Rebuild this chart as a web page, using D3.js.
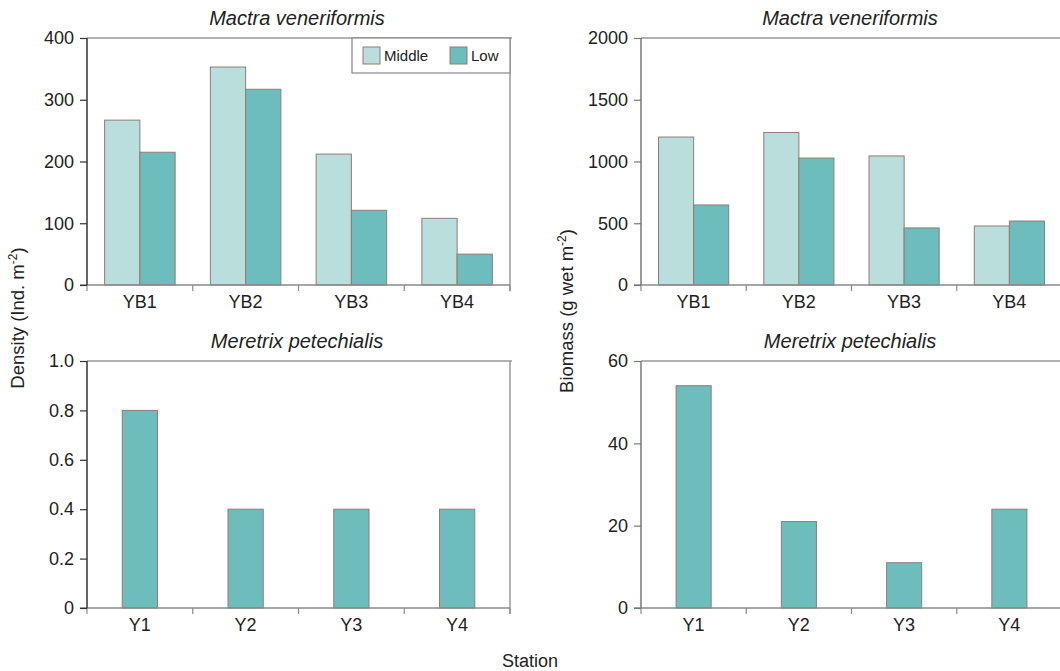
<!DOCTYPE html>
<html>
<head>
<meta charset="utf-8">
<script src="https://cdn.jsdelivr.net/npm/d3@7"></script>
<style>
  body { margin: 0; background: #fff; }
  svg { display: block; font-family: "Liberation Sans", Arial, sans-serif; }
</style>
</head>
<body>
<svg id="chart" width="1060" height="671"></svg>
<script>
// Stations and series
const stationsMactra = ["YB1", "YB2", "YB3", "YB4"];
const stationsMeretrix = ["Y1", "Y2", "Y3", "Y4"];
const seriesNames = ["Middle", "Low"];

// Mactra veneriformis density (Ind. m-2)
const mactraDensityMiddle = [267, 353, 212, 108];
const mactraDensityLow = [215, 317, 121, 50];
// Mactra veneriformis biomass (g wet m-2)
const mactraBiomassMiddle = [1198, 1235, 1045, 478];
const mactraBiomassLow = [648, 1028, 462, 518];
// Meretrix petechialis (low zone only)
const meretrixDensityLow = [0.8, 0.4, 0.4, 0.4];
const meretrixBiomassLow = [54, 21, 11, 24];

// Axis ticks
const densityTicksTop = [0, 100, 200, 300, 400];
const biomassTicksTop = [0, 500, 1000, 1500, 2000];
const densityTicksBottom = [0, 0.2, 0.4, 0.6, 0.8, 1.0];
const biomassTicksBottom = [0, 20, 40, 60];

const colors = { Middle: "#b9dedb", Low: "#6dbdbd" };
const barStroke = "#8f7d74";

const svg = d3.select("#chart");

function panel(cfg) {
  const g = svg.append("g");
  const x = d3.scaleBand().domain(cfg.categories).range([cfg.left, cfg.right]).padding(0);
  const y = d3.scaleLinear().domain(cfg.yDomain).range([cfg.bottom, cfg.top]);

  const series = cfg.series.map(s => s.name);
  const inner = d3.scaleBand().domain(series).range([0, x.bandwidth()])
    .paddingInner(0).paddingOuter(series.length === 1 ? 1 : 0.5);

  // frame: top and right edges
  g.append("line").attr("x1", cfg.left).attr("x2", cfg.right + 2)
    .attr("y1", cfg.top).attr("y2", cfg.top)
    .attr("stroke", "#999").attr("stroke-width", 1.5);
  g.append("line").attr("x1", cfg.right).attr("x2", cfg.right)
    .attr("y1", cfg.top).attr("y2", cfg.bottom + 6)
    .attr("stroke", "#999").attr("stroke-width", 1.5);

  // bars
  cfg.series.forEach(s => {
    g.append("g").selectAll("rect")
      .data(cfg.categories.map((c, i) => ({ c, v: s.values[i] })))
      .join("rect")
      .attr("x", d => x(d.c) + inner(s.name))
      .attr("y", d => y(d.v))
      .attr("width", inner.bandwidth())
      .attr("height", d => y(0) - y(d.v))
      .attr("fill", colors[s.name])
      .attr("stroke", barStroke)
      .attr("stroke-width", 1);
  });

  // x axis baseline, band boundary ticks and labels
  g.append("line").attr("x1", cfg.left - 7).attr("x2", cfg.right)
    .attr("y1", y(0)).attr("y2", y(0))
    .attr("stroke", "#8a8a8a").attr("stroke-width", 1.5);
  const bounds = cfg.categories.map(c => x(c)).concat([cfg.right]);
  g.append("g").selectAll("line").data(bounds).join("line")
    .attr("x1", d => d).attr("x2", d => d)
    .attr("y1", y(0)).attr("y2", y(0) + 6)
    .attr("stroke", "#8a8a8a").attr("stroke-width", 1.2);
  g.append("g").selectAll("text").data(cfg.categories).join("text")
    .attr("x", d => x(d) + x.bandwidth() / 2)
    .attr("y", y(0) + 23)
    .attr("text-anchor", "middle")
    .attr("font-size", 18).attr("fill", "#222")
    .text(d => d);

  // y axis
  const ya = g.append("g").attr("transform", `translate(${cfg.left},0)`)
    .call(d3.axisLeft(y).tickValues(cfg.ticks).tickSize(7).tickPadding(6)
      .tickFormat(cfg.format));
  ya.select(".domain").attr("stroke", cfg.axisColor).attr("stroke-width", 1.5)
    .attr("d", `M0,${cfg.top}V${cfg.bottom}`);
  ya.selectAll(".tick line").attr("stroke", cfg.axisColor).attr("stroke-width", 1.2);
  ya.selectAll(".tick text").attr("font-size", 18).attr("fill", "#222")
    .attr("font-family", "Liberation Sans, Arial, sans-serif");

  // title
  g.append("text")
    .attr("x", cfg.titleX)
    .attr("y", cfg.top - 13)
    .attr("text-anchor", "middle")
    .attr("font-size", 20).attr("font-style", "italic").attr("fill", "#222")
    .text(cfg.title);

  return { g, x, y };
}

const fmt0 = d3.format("d");
const fmt1 = d => (d === 0 ? "0" : d3.format(".1f")(d));

panel({
  categories: stationsMactra, left: 87, right: 510, top: 38, bottom: 285,
  yDomain: [0, 400], ticks: densityTicksTop, format: fmt0, axisColor: "#333",
  series: [{ name: "Middle", values: mactraDensityMiddle }, { name: "Low", values: mactraDensityLow }],
  title: "Mactra veneriformis", titleX: 297
});
panel({
  categories: stationsMactra, left: 641, right: 1062, top: 38, bottom: 285,
  yDomain: [0, 2000], ticks: biomassTicksTop, format: fmt0, axisColor: "#777",
  series: [{ name: "Middle", values: mactraBiomassMiddle }, { name: "Low", values: mactraBiomassLow }],
  title: "Mactra veneriformis", titleX: 850
});
panel({
  categories: stationsMeretrix, left: 87, right: 510, top: 361, bottom: 608,
  yDomain: [0, 1.0], ticks: densityTicksBottom, format: fmt1, axisColor: "#333",
  series: [{ name: "Low", values: meretrixDensityLow }],
  title: "Meretrix petechialis", titleX: 297
});
panel({
  categories: stationsMeretrix, left: 641, right: 1062, top: 361, bottom: 608,
  yDomain: [0, 60], ticks: biomassTicksBottom, format: fmt0, axisColor: "#777",
  series: [{ name: "Low", values: meretrixBiomassLow }],
  title: "Meretrix petechialis", titleX: 850
});

// legend in the density panel
const legend = svg.append("g");
legend.append("rect").attr("x", 352).attr("y", 38).attr("width", 158).attr("height", 35)
  .attr("fill", "#fff").attr("stroke", "#888").attr("stroke-width", 1.2);
const legendItems = [{ name: seriesNames[0], x: 363 }, { name: seriesNames[1], x: 450 }];
legendItems.forEach(it => {
  legend.append("rect").attr("x", it.x).attr("y", 47).attr("width", 17).attr("height", 17)
    .attr("fill", colors[it.name]).attr("stroke", barStroke);
  legend.append("text").attr("x", it.x + 21).attr("y", 61)
    .attr("font-size", 15).attr("fill", "#222").text(it.name);
});

// shared axis titles
function unitLabel(x, y, prefix) {
  const t = svg.append("text")
    .attr("transform", `translate(${x},${y}) rotate(-90)`)
    .attr("text-anchor", "middle")
    .attr("font-size", 18.5).attr("fill", "#222");
  t.append("tspan").text(prefix);
  t.append("tspan").attr("font-size", 12).attr("dy", -7).text("-2");
  t.append("tspan").attr("dy", 7).text(")");
}
unitLabel(24, 318, "Density (Ind. m");
unitLabel(573, 311, "Biomass (g wet m");

svg.append("text").attr("x", 530).attr("y", 667).attr("text-anchor", "middle")
  .attr("font-size", 18).attr("fill", "#222").text("Station");
</script>
</body>
</html>
